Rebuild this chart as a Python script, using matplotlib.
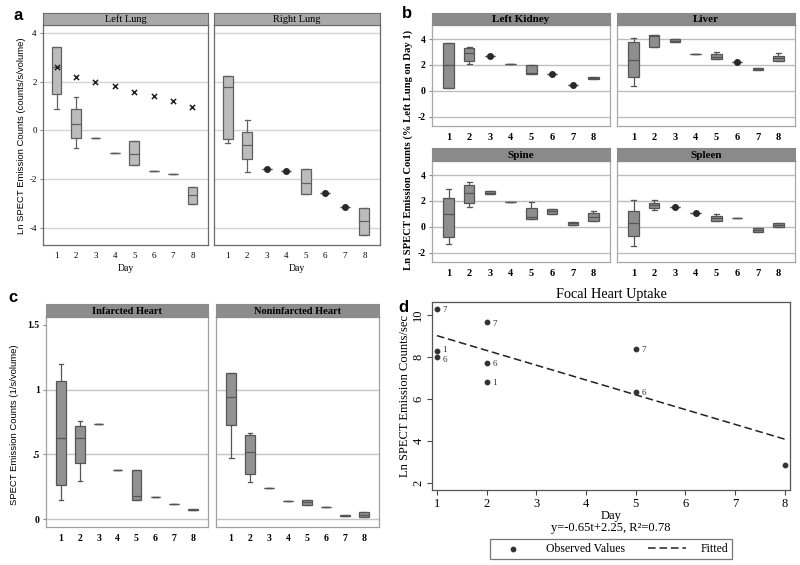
import numpy as np
import matplotlib.pyplot as plt

W, H = 800, 565
SERIF = "Liberation Serif"
SANS = "Liberation Sans"

days = [1, 2, 3, 4, 5, 6, 7, 8]

# each day: (whisker low, q1, median, q3, whisker high)
left_lung = [(0.88, 1.51, 2.60, 3.44, 3.44), (-0.71, -0.30, 0.27, 0.88, 1.37),
             (-0.31, -0.31, -0.31, -0.31, -0.31), (-0.94, -0.94, -0.94, -0.94, -0.94),
             (-1.41, -1.41, -0.98, -0.45, -0.45), (-1.65, -1.65, -1.65, -1.65, -1.65),
             (-1.78, -1.78, -1.78, -1.78, -1.78), (-3.00, -3.00, -2.65, -2.31, -2.31)]
left_lung_marks = [2.62, 2.19, 2.00, 1.81, 1.60, 1.40, 1.20, 0.98]
right_lung = [(-0.53, -0.34, 1.78, 2.24, 2.24), (-1.69, -1.17, -0.58, -0.05, 0.42),
              (-1.60, -1.60, -1.60, -1.60, -1.60), (-1.66, -1.66, -1.66, -1.66, -1.66),
              (-2.62, -2.62, -2.15, -1.58, -1.58), (-2.56, -2.56, -2.56, -2.56, -2.56),
              (-3.16, -3.16, -3.16, -3.16, -3.16), (-4.30, -4.30, -3.71, -3.18, -3.18)]
right_lung_dots = [3, 4, 6, 7]

left_kidney = [(0.20, 0.20, 1.97, 3.72, 3.72), (2.05, 2.33, 2.90, 3.28, 3.41),
               (2.69, 2.69, 2.69, 2.69, 2.69), (2.05, 2.05, 2.05, 2.05, 2.05),
               (1.31, 1.31, 1.40, 1.97, 1.97), (1.33, 1.33, 1.33, 1.33, 1.33),
               (0.46, 0.46, 0.46, 0.46, 0.46), (0.92, 0.92, 1.00, 1.10, 1.10)]
left_kidney_dots = [3, 6, 7]
liver = [(0.38, 1.10, 2.36, 3.80, 4.05), (3.36, 3.40, 4.25, 4.30, 4.30),
         (3.80, 3.80, 3.88, 3.98, 3.98), (2.87, 2.87, 2.87, 2.87, 2.87),
         (2.46, 2.46, 2.64, 2.82, 2.98), (2.23, 2.23, 2.23, 2.23, 2.23),
         (1.64, 1.64, 1.69, 1.74, 1.74), (2.33, 2.33, 2.51, 2.69, 2.90)]
liver_dots = [6]
spine = [(-1.35, -0.74, 1.00, 2.26, 2.95), (1.52, 1.85, 2.62, 3.20, 3.46),
         (2.50, 2.50, 2.62, 2.74, 2.74), (1.95, 1.95, 1.95, 1.95, 1.95),
         (0.65, 0.65, 0.75, 1.46, 1.90), (1.03, 1.03, 1.20, 1.38, 1.38),
         (0.18, 0.18, 0.30, 0.41, 0.41), (0.49, 0.49, 0.77, 1.08, 1.26)]
spine_dots = []
spleen = [(-1.48, -0.66, 0.28, 1.23, 2.10), (1.28, 1.46, 1.67, 1.85, 2.05),
          (1.57, 1.57, 1.57, 1.57, 1.57), (1.08, 1.08, 1.08, 1.08, 1.08),
          (0.49, 0.49, 0.67, 0.82, 0.98), (0.69, 0.69, 0.69, 0.69, 0.69),
          (-0.41, -0.41, -0.20, -0.05, -0.05), (0.03, 0.03, 0.15, 0.28, 0.28)]
spleen_dots = [3, 4]

infarcted = [(0.15, 0.265, 0.63, 1.07, 1.20), (0.294, 0.43, 0.626, 0.72, 0.76),
             (0.735, 0.735, 0.735, 0.735, 0.735), (0.38, 0.38, 0.38, 0.38, 0.38),
             (0.15, 0.15, 0.178, 0.376, 0.376), (0.17, 0.17, 0.17, 0.17, 0.17),
             (0.121, 0.121, 0.121, 0.121, 0.121), (0.068, 0.068, 0.072, 0.076, 0.076)]
noninfarcted = [(0.47, 0.73, 0.943, 1.13, 1.13), (0.286, 0.348, 0.518, 0.65, 0.665),
                (0.242, 0.242, 0.242, 0.242, 0.242), (0.139, 0.139, 0.139, 0.139, 0.139),
                (0.113, 0.113, 0.13, 0.15, 0.15), (0.093, 0.093, 0.093, 0.093, 0.093),
                (0.025, 0.025, 0.028, 0.031, 0.031), (0.015, 0.015, 0.035, 0.057, 0.057)]

focal_day = [1, 1, 1, 2, 2, 2, 5, 5, 8]
focal_value = [10.29, 8.29, 8.02, 9.65, 7.72, 6.83, 8.40, 6.36, 2.87]
focal_id = ["7", "1", "6", "7", "6", "1", "7", "6", "1"]
fit_day = [1, 8]
fit_value = [9.02, 4.10]


def add_px(fig, x0, y0, x1, y1):
    # axes from pixel corners (top-left origin)
    return fig.add_axes([x0 / W, 1 - y1 / H, (x1 - x0) / W, (y1 - y0) / H])


def strip(fig, x0, y0, x1, y1, title, color, edge, weight="normal", size=7.5):
    ax = add_px(fig, x0, y0, x1, y1)
    ax.set_facecolor(color)
    ax.set_xticks([])
    ax.set_yticks([])
    for s in ax.spines.values():
        s.set_color(edge)
        s.set_linewidth(0.8)
    ax.text(0.5, 0.45, title, ha="center", va="center", transform=ax.transAxes,
            fontsize=size, family=SERIF, fontweight=weight)
    return ax


def facet(ax, data, face, edge, frame, grid_y, ylim, xlim, dots=(), grid_color="#d4d4d4"):
    stats = [dict(whislo=a, q1=b, med=c, q3=d, whishi=e) for a, b, c, d, e in data]
    ax.bxp(stats, positions=days, widths=0.5, capwidths=0.25, showfliers=False,
           patch_artist=True,
           boxprops=dict(facecolor=face, edgecolor=edge, linewidth=0.9),
           medianprops=dict(color=edge, linewidth=0.9),
           whiskerprops=dict(color=edge, linewidth=0.9),
           capprops=dict(color=edge, linewidth=0.9), zorder=3)
    if len(dots):
        meds = [data[d - 1][2] for d in dots]
        ax.scatter(dots, meds, s=16, color="#2a2a2a", zorder=4)
    for g in grid_y:
        ax.axhline(g, color=grid_color, lw=1.0, zorder=1)
    ax.set_xlim(*xlim)
    ax.set_ylim(*ylim)
    for s in ax.spines.values():
        s.set_color(frame)
        s.set_linewidth(0.9)
    ax.tick_params(axis="x", length=0, pad=5)
    ax.tick_params(axis="y", length=2.5, color="#888888", pad=2)


fig = plt.figure(figsize=(W / 100, H / 100), dpi=100)

# ---------------- panel a ----------------
a_ylim = (-4.7, 4.33)
a_ticks = [4, 2, 0, -2, -4]
for k, (x0, x1, title, data) in enumerate([(43, 208, "Left Lung", left_lung),
                                            (214, 380, "Right Lung", right_lung)]):
    ax = add_px(fig, x0, 25, x1, 245)
    facet(ax, data, "#bcbcbc", "#606060", "#6a6a6a", a_ticks, a_ylim, (0.3, 8.8),
          dots=right_lung_dots if k == 1 else ())
    if k == 0:
        ax.scatter(days, left_lung_marks, marker="x", s=14, color="#222222", lw=1.1, zorder=5)
        ax.set_yticks(a_ticks)
        ax.set_yticklabels([str(t) for t in a_ticks], fontsize=6.5, family=SERIF)
    else:
        ax.set_yticks([])
    ax.set_xticks(days)
    ax.set_xticklabels([str(d) for d in days], fontsize=6.5, family=SERIF)
    ax.set_xlabel("Day", fontsize=7, family=SERIF, labelpad=3)
    strip(fig, x0, 13, x1, 25, title, "#a9a9a9", "#6a6a6a")
fig.text(22 / W, 1 - 136 / H, "Ln SPECT Emission Counts (counts/s/volume)", rotation=90,
         ha="center", va="center", fontsize=6.8, family=SANS)
fig.text(18 / W, 1 - 15 / H, "a", ha="center", va="center", fontsize=12,
         fontweight="bold", family=SANS)

# ---------------- panel b ----------------
b_ylim = (-2.7, 5.08)
b_ticks = [4, 2, 0, -2]
b_panels = [(432, 610, 25, 126, "Left Kidney", left_kidney, left_kidney_dots),
            (617, 795, 25, 126, "Liver", liver, liver_dots),
            (432, 610, 161, 262, "Spine", spine, spine_dots),
            (617, 795, 161, 262, "Spleen", spleen, spleen_dots)]
for k, (x0, x1, y0, y1, title, data, dots) in enumerate(b_panels):
    ax = add_px(fig, x0, y0, x1, y1)
    facet(ax, data, "#8e8e8e", "#555555", "#a8a8a8", b_ticks, b_ylim, (0.2, 8.8),
          dots=dots, grid_color="#bdbdbd")
    if k % 2 == 0:
        ax.set_yticks(b_ticks)
        ax.set_yticklabels([str(t) for t in b_ticks], fontsize=7, family=SERIF,
                           fontweight="bold")
    else:
        ax.set_yticks([])
    ax.set_xticks(days)
    ax.set_xticklabels([str(d) for d in days], fontsize=7.5, family=SERIF,
                       fontweight="bold")
    strip(fig, x0, y0 - 12.5, x1, y0, title, "#8a8a8a", "#8a8a8a", weight="bold", size=8)
fig.text(408 / W, 1 - 150 / H, "Ln SPECT Emission Counts (% Left Lung on Day 1)",
         rotation=90, ha="center", va="center", fontsize=7.7, family=SERIF,
         fontweight="bold")
fig.text(407 / W, 1 - 14 / H, "b", ha="center", va="center", fontsize=12,
         fontweight="bold", family=SANS)

# ---------------- panel c ----------------
c_ylim = (-0.06, 1.56)
for k, (x0, x1, title, data) in enumerate([(46, 208, "Infarcted Heart", infarcted),
                                            (216, 379, "Noninfarcted Heart", noninfarcted)]):
    ax = add_px(fig, x0, 317, x1, 527)
    facet(ax, data, "#929292", "#555555", "#a0a0a0", [0, 0.5, 1], c_ylim, (0.2, 8.8),
          grid_color="#c4c4c4")
    if k == 0:
        ax.set_yticks([0, 0.5, 1, 1.5])
        ax.set_yticklabels(["0", ".5", "1", "1.5"], fontsize=7, family=SERIF,
                           fontweight="bold")
    else:
        ax.set_yticks([])
    ax.set_xticks(days)
    ax.set_xticklabels([str(d) for d in days], fontsize=7, family=SERIF,
                       fontweight="bold")
    strip(fig, x0, 304, x1, 317, title, "#8c8c8c", "#8c8c8c", weight="bold", size=7.5)
fig.text(15 / W, 1 - 425 / H, "SPECT Emission Counts (1/s/volume)", rotation=90,
         ha="center", va="center", fontsize=6.8, family=SANS)
fig.text(13 / W, 1 - 298 / H, "c", ha="center", va="center", fontsize=12,
         fontweight="bold", family=SANS)

# ---------------- panel d ----------------
ax = add_px(fig, 432, 302, 790, 490)
obs = ax.scatter(focal_day, focal_value, s=10, color="#333333", zorder=3,
                 label="Observed Values")
for i, (x, y, t) in enumerate(zip(focal_day, focal_value, focal_id)):
    # nudge labels apart when two points on the same day sit close together
    dy = -1
    for j, (x2, y2) in enumerate(zip(focal_day, focal_value)):
        if j != i and x2 == x and abs(y2 - y) < 0.5:
            dy += 1.5 if y > y2 else -1.5
    ax.annotate(t, (x, y), xytext=(4, dy), textcoords="offset points", fontsize=6.5,
                family=SERIF, va="center", color="#333333", annotation_clip=False,
                clip_on=True)
fit, = ax.plot(fit_day, fit_value, ls=(0, (5, 2.5)), color="#222222", lw=1.1,
               label="Fitted")
ax.set_xlim(0.9, 8.11)
ax.set_ylim(1.68, 10.62)
ax.set_xticks(days)
ax.set_xticklabels([str(d) for d in days], fontsize=9, family=SERIF)
ax.set_yticks([2, 4, 6, 8, 10])
ax.set_yticklabels(["2", "4", "6", "8", "10"], fontsize=9, family=SERIF,
                   rotation=90, va="center")
ax.tick_params(length=3.5, color="#444444", pad=2)
for s in ax.spines.values():
    s.set_color("#555555")
    s.set_linewidth(0.9)
ax.set_xlabel("Day", fontsize=9, family=SERIF, labelpad=0)
ax.set_ylabel("Ln SPECT Emission Counts/sec", fontsize=9, family=SERIF, labelpad=1)
ax.set_title("Focal Heart Uptake", fontsize=10.3, family=SERIF, pad=3)
fig.text(611 / W, 1 - 528 / H, "y=-0.65t+2.25, R\u00b2=0.78", ha="center", va="center",
         fontsize=9, family=SERIF)
leg = fig.legend(handles=[obs, fit], loc="center", ncol=2,
                 bbox_to_anchor=(611 / W, 1 - 549 / H), frameon=True, fancybox=False,
                 prop={"family": SERIF, "size": 8.5}, handlelength=3.2,
                 columnspacing=2.0, borderpad=0.35, handletextpad=1.2)
leg.get_frame().set_edgecolor("#555555")
leg.get_frame().set_linewidth(0.9)
fig.text(403 / W, 1 - 308 / H, "d", ha="center", va="center", fontsize=12,
         fontweight="bold", family=SANS)

fig.savefig("out.png", dpi=100)
